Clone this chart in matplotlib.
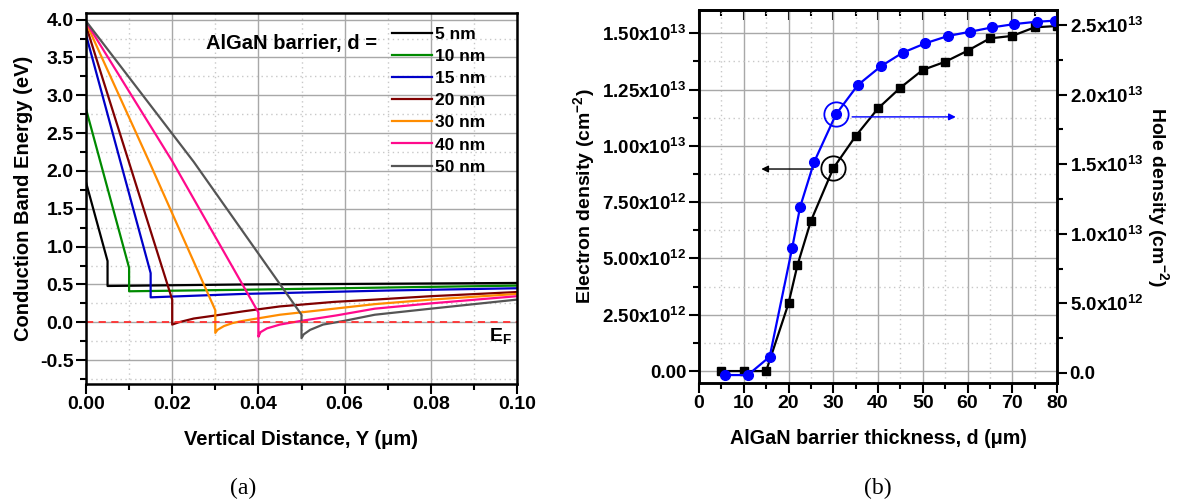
import matplotlib
matplotlib.use("Agg")
import matplotlib.pyplot as plt
from matplotlib.ticker import MultipleLocator, FuncFormatter, NullFormatter

plt.rcParams['font.family'] = ['Liberation Sans', 'DejaVu Sans']
plt.rcParams['font.weight'] = 'bold'
plt.rcParams['mathtext.fontset'] = 'custom'
plt.rcParams['mathtext.rm'] = 'Liberation Sans:bold'
plt.rcParams['mathtext.bf'] = 'Liberation Sans:bold'
plt.rcParams['mathtext.it'] = 'Liberation Sans:bold'

# ---- panel (a): conduction band profiles, Y in um, E in eV
labels_a = ['5 nm', '10 nm', '15 nm', '20 nm', '30 nm', '40 nm', '50 nm']
colors_a = ['#000000', '#008a00', '#0000c8', '#800000', '#ff8c00', '#ff0a8c', '#555555']

y_5 = [0.0, 0.005, 0.005, 0.0365, 0.07, 0.1]
e_5 = [1.85, 0.81, 0.48, 0.50, 0.51, 0.52]
y_10 = [0.0, 0.0, 0.010, 0.010, 0.0365, 0.07, 0.1]
e_10 = [3.35, 2.82, 0.72, 0.41, 0.43, 0.46, 0.485]
y_15 = [0.0, 0.015, 0.015, 0.0365, 0.07, 0.1]
e_15 = [3.80, 0.65, 0.33, 0.375, 0.42, 0.45]
y_20 = [0.0, 0.020, 0.020, 0.0215, 0.025, 0.03, 0.0365, 0.045, 0.0576, 0.067, 0.08, 0.1]
e_20 = [3.92, 0.30, -0.03, 0.0, 0.05, 0.09, 0.145, 0.21, 0.27, 0.30, 0.345, 0.40]
y_30 = [0.0, 0.015, 0.030, 0.030, 0.0305, 0.032, 0.034, 0.0365, 0.045, 0.0576, 0.067, 0.08, 0.1]
e_30 = [3.96, 2.08, 0.16, -0.14, -0.10, -0.05, -0.01, 0.02, 0.10, 0.18, 0.24, 0.30, 0.375]
y_40 = [0.0, 0.020, 0.040, 0.040, 0.0405, 0.042, 0.045, 0.05, 0.058, 0.067, 0.08, 0.1]
e_40 = [3.97, 2.13, 0.13, -0.19, -0.13, -0.08, -0.03, 0.02, 0.09, 0.18, 0.25, 0.345]
y_50 = [0.0, 0.025, 0.050, 0.050, 0.0505, 0.052, 0.055, 0.06, 0.067, 0.08, 0.09, 0.1]
e_50 = [3.98, 2.12, 0.10, -0.21, -0.16, -0.10, -0.03, 0.02, 0.10, 0.18, 0.24, 0.30]
ys_a = [y_5, y_10, y_15, y_20, y_30, y_40, y_50]
es_a = [e_5, e_10, e_15, e_20, e_30, e_40, e_50]

# ---- panel (b): densities vs barrier thickness
d_e = [5, 10, 15, 20, 22, 25, 30, 35, 40, 45, 50, 55, 60, 65, 70, 75, 80]
n_e = [0.0, 0.0, 0.0, 3.0, 4.7, 6.66, 9.0, 10.43, 11.66, 12.58, 13.37, 13.73, 14.22,
       14.77, 14.88, 15.26, 15.32]  # x1e12 cm^-2
d_h = [5.9, 10.9, 15.8, 20.8, 22.6, 25.7, 30.6, 35.5, 40.7, 45.5, 50.6, 55.6, 60.6,
       65.5, 70.5, 75.5, 79.5]
p_h = [-0.15, -0.15, 1.17, 8.95, 11.93, 15.14, 18.58, 20.69, 22.05, 23.01, 23.69, 24.21,
       24.52, 24.83, 25.07, 25.24, 25.31]  # x1e12 cm^-2

fig = plt.figure(figsize=(11.86, 5.01), dpi=100)

def style_grid(ax):
    ax.grid(which='major', color='#a8a8a8', lw=1.0, ls='-')
    ax.grid(which='minor', color='#c8c8c8', lw=1.0, ls=(0, (1, 2.5)))
    ax.set_axisbelow(True)
    for s in ax.spines.values():
        s.set_linewidth(1.8)

# ---------- (a)
ax1 = fig.add_axes([86/1186, 1-383.6/501, 431/1186, 370.8/501])
for yy, ee, c, lab in zip(ys_a, es_a, colors_a, labels_a):
    ax1.plot(yy, ee, color=c, lw=1.6, label=lab)
ax1.axhline(0, color='#ff3030', ls=(0, (4, 3)), lw=1.3)
ax1.set_xlim(0, 0.1)
ax1.set_ylim(-0.81, 4.09)
ax1.xaxis.set_major_locator(MultipleLocator(0.02))
ax1.xaxis.set_minor_locator(MultipleLocator(0.01))
ax1.yaxis.set_major_locator(MultipleLocator(0.5))
ax1.yaxis.set_minor_locator(MultipleLocator(0.25))
ax1.xaxis.set_major_formatter(FuncFormatter(lambda v, p: f"{v:.2f}"))
ax1.yaxis.set_major_formatter(FuncFormatter(lambda v, p: f"{v:.1f}"))
ax1.tick_params(which='both', direction='out', width=1.5, labelsize=14, top=False, right=False, pad=2)
ax1.tick_params(which='major', length=7)
ax1.tick_params(which='minor', length=4)
style_grid(ax1)
ax1.set_xlabel('Vertical Distance, Y (\u03bcm)', fontsize=14.5, fontweight='bold', labelpad=12)
ax1.set_ylabel('Conduction Band Energy (eV)', fontsize=14.5, fontweight='bold', labelpad=5)
leg = ax1.legend(loc='upper left', bbox_to_anchor=(0.71, 0.962), frameon=False,
                 fontsize=12.5, handlelength=2.3, handletextpad=0.2, labelspacing=0.40,
                 borderpad=0, borderaxespad=0)
for t in leg.get_texts():
    t.set_fontweight('bold')
ax1.text(0.278, 0.916, 'AlGaN barrier, d =', transform=ax1.transAxes, fontsize=14.5,
         fontweight='bold', ha='left', va='center')
ax1.text(0.0935, -0.18, r'$\mathbf{E_F}$', fontsize=14, ha='left', va='center')

# ---------- (b)
ax2 = fig.add_axes([699/1186, 1-383/501, 358/1186, 373/501])
ax3 = ax2.twinx()
ax2.plot(d_e, [v*1e12 for v in n_e], color='black', marker='s', ms=6, lw=1.6)
ax3.plot(d_h, [v*1e12 for v in p_h], color='#0000ff', marker='o', ms=7, lw=1.6)
ax2.set_xlim(0, 80)
ax2.set_ylim(-0.53e12, 1.603e13)
ax3.set_ylim(-0.72e12, 2.608e13)
ax2.xaxis.set_major_locator(MultipleLocator(10))
ax2.xaxis.set_minor_locator(MultipleLocator(5))
ax2.yaxis.set_major_locator(MultipleLocator(2.5e12))
ax2.yaxis.set_minor_locator(MultipleLocator(1.25e12))
ax3.yaxis.set_major_locator(MultipleLocator(5e12))
ax3.yaxis.set_minor_locator(MultipleLocator(2.5e12))

def sci_fmt(dec):
    def f(v, p):
        if abs(v) < 1:
            return f"{0:.{dec}f}"
        e = 12 if abs(v) < 1e13 else 13
        m = v / 10**e
        return r'$\mathbf{' + f"{m:.{dec}f}" + r'x10^{' + str(e) + r'}}$'
    return f

ax2.yaxis.set_major_formatter(FuncFormatter(sci_fmt(2)))
ax3.yaxis.set_major_formatter(FuncFormatter(sci_fmt(1)))
ax2.tick_params(which='both', direction='out', width=1.5, labelsize=13.5, right=False, top=False, pad=2)
ax2.tick_params(which='major', length=7)
ax2.tick_params(which='minor', length=4)
ax2.tick_params(axis='x', which='both', labelsize=14)
ax3.tick_params(which='both', direction='out', width=1.5, labelsize=13.5, pad=2)
ax3.tick_params(which='major', length=7)
ax3.tick_params(which='minor', length=4)
style_grid(ax2)
for s in ax3.spines.values():
    s.set_linewidth(1.8)

# inward ticks along the top edge
top = ax2.secondary_xaxis('top')
top.xaxis.set_major_locator(MultipleLocator(10))
top.xaxis.set_minor_locator(MultipleLocator(5))
top.xaxis.set_major_formatter(NullFormatter())
top.tick_params(which='both', direction='in', width=1.5)
top.tick_params(which='major', length=7)
top.tick_params(which='minor', length=4)
top.spines['top'].set_linewidth(1.8)

ax2.set_xlabel('AlGaN barrier thickness, d (\u03bcm)', fontsize=14.2, fontweight='bold', labelpad=12)
ax2.set_ylabel(r'Electron density (cm$^{\mathbf{-2}}$)', fontsize=14, fontweight='bold', labelpad=4)
ax3.set_ylabel(r'Hole density (cm$^{\mathbf{-2}}$)', fontsize=14, fontweight='bold',
               rotation=270, labelpad=20)

# guide circles and arrows
ax3.plot([30.6], [18.6e12], marker='o', ms=17.5, mfc='none', mec='#0000ff', mew=1.3, ls='none')
ax3.annotate('', xy=(58, 18.4e12), xytext=(33.6, 18.4e12),
             arrowprops=dict(arrowstyle='-|>', color='#0000ff', lw=1.0, mutation_scale=10))
ax2.plot([30], [9.0e12], marker='o', ms=17.5, mfc='none', mec='black', mew=1.3, ls='none')
ax2.annotate('', xy=(13.3, 8.97e12), xytext=(26.2, 8.97e12),
             arrowprops=dict(arrowstyle='-|>', color='black', lw=1.0, mutation_scale=10))

fig.text(243/1186, 1-488/501, '(a)', family='Liberation Serif', fontweight='normal',
         fontsize=17, ha='center', va='center')
fig.text(878/1186, 1-488/501, '(b)', family='Liberation Serif', fontweight='normal',
         fontsize=17, ha='center', va='center')

fig.savefig('out.png', dpi=100, facecolor='white')
